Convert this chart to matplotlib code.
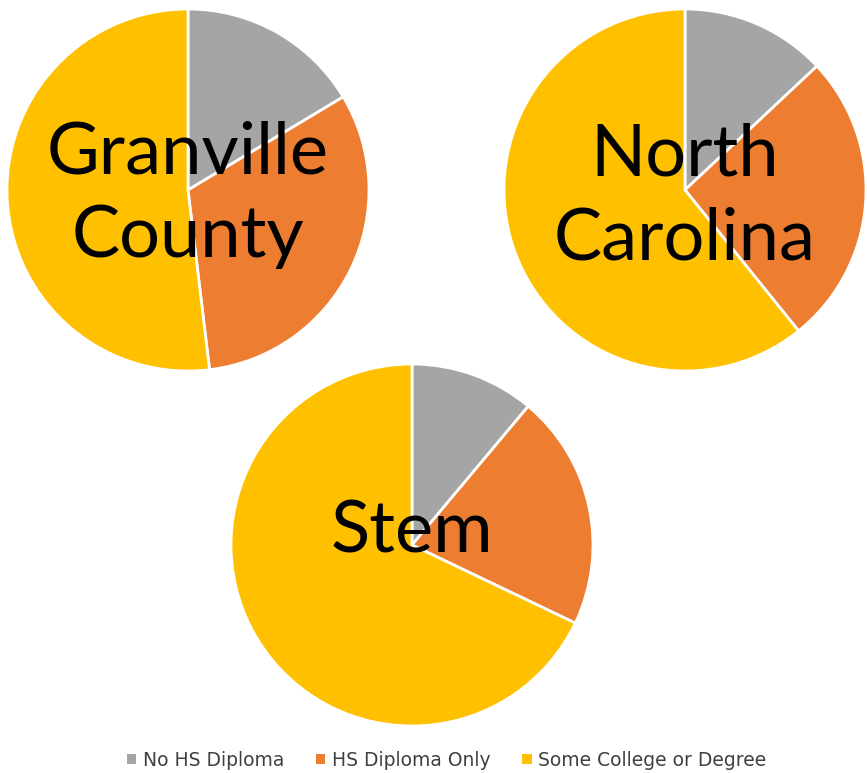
import matplotlib.pyplot as plt
from matplotlib.patches import Patch

categories = ["No HS Diploma", "HS Diploma Only", "Some College or Degree"]
colors = ["#A5A5A5", "#ED7D31", "#FFC000"]

regions = ["Granville\nCounty", "North\nCarolina", "Stem"]
shares = {
    "Granville\nCounty": [16.4, 31.7, 51.9],
    "North\nCarolina": [13.0, 26.2, 60.8],
    "Stem": [11.1, 21.0, 67.9],
}

W, H = 867, 773
fig = plt.figure(figsize=(W / 100, H / 100), dpi=100)

# pie centres in pixels (x, y from top), radius
centres = {
    "Granville\nCounty": (188, 190),
    "North\nCarolina": (685, 190),
    "Stem": (412, 545),
}
label_y = {"Granville\nCounty": -0.025, "North\nCarolina": -0.04, "Stem": 0.07}
r = 181

for name in regions:
    cx, cy = centres[name]
    ax = fig.add_axes([(cx - r) / W, (H - cy - r) / H, 2 * r / W, 2 * r / H])
    ax.pie(shares[name], colors=colors, startangle=90, counterclock=False,
           radius=1, wedgeprops=dict(edgecolor="white", linewidth=2))
    ax.set_xlim(-1, 1)
    ax.set_ylim(-1, 1)
    ax.set_aspect("auto")
    ax.axis("off")
    ax.text(0, label_y[name], name, ha="center", va="center",
            fontsize=52, family=["Lato", "DejaVu Sans"], linespacing=1.35)

handles = [Patch(facecolor=c, edgecolor="none") for c in colors]
leg = fig.legend(handles, categories, loc="center",
                 bbox_to_anchor=(0.515, 1 - 760 / H),
                 ncol=3, frameon=False, handlelength=0.5, handleheight=0.5,
                 columnspacing=1.7, handletextpad=0.35,
                 prop={"family": "DejaVu Sans", "size": 13.5})
for t in leg.get_texts():
    t.set_color("#404040")

fig.savefig("out.png", dpi=100)
